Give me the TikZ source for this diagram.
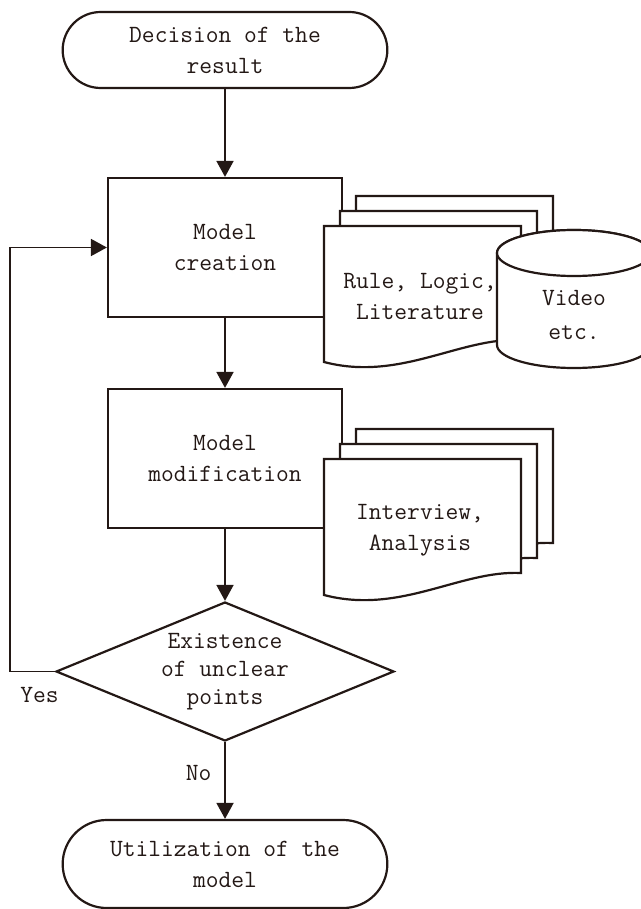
\documentclass[tikz,border=0pt]{standalone}
\usepackage{tikz}
\usetikzlibrary{positioning, arrows.meta, shapes.geometric, shapes.misc}
\definecolor{ink}{HTML}{231815}

\begin{document}
\begin{tikzpicture}[
    x=0.5pt, y=-0.5pt,
    every node/.style={font=\fontsize{12.4}{15.5}\selectfont\ttfamily, text=ink},
    term/.style={draw=ink, line width=1.1pt, rounded rectangle, minimum width=169pt,
                 align=center, fill=white},
    block/.style={draw=ink, line width=1.1pt, minimum width=117pt, minimum height=69.5pt,
                  align=center, fill=white},
    decide/.style={draw=ink, line width=1.1pt, diamond, minimum width=169pt,
                   minimum height=69.5pt, inner sep=0pt},
    sheet/.style={draw=ink, line width=1.1pt, fill=white},
    arr/.style={-{Triangle[length=8pt, width=8.5pt]}, draw=ink, line width=0.9pt}
  ]
    \clip (0,0) rectangle (641,909);
    % main column
    \node[term, minimum height=38pt] (start) at (225,50) {Decision of the\\result};
    \node[block, below=43.9pt of start] (create) {Model\\creation};
    \node[block, below=34.9pt of create] (modify) {Model\\modification};
    \node[decide, below=35.9pt of modify] (chk) {};
    \node[align=center, font=\fontsize{12.4}{14}\selectfont\ttfamily] (chktxt) at (chk) {Existence\\of unclear\\points};
    \node[term, minimum height=44pt, below=38.4pt of chk] (util) {Utilization of the\\model};
    % paper stacks, laid over the right edge of the blocks
    \foreach \sy in {226,459}
      \foreach \dx/\dy in {32/-30, 16/-15, 0/0}
        \draw[sheet, shift={(324+\dx,\sy+\dy)}] (0,0) -- (197,0) -- (197,114)
          .. controls (136,111) and (76,156) .. (0,136) -- cycle;
    \node[align=center] (lit) at (420,296) {Rule, Logic,\\Literature};
    \node[align=center] (intv) at (420,530) {Interview,\\Analysis};
    % drum in front of the first stack
    \draw[sheet] (497,253) -- (497,345) arc[start angle=180, end angle=0, x radius=77, y radius=23]
      -- (651,253) arc[start angle=0, end angle=-180, x radius=77, y radius=23] -- cycle;
    \draw[sheet] (574,253) ellipse [x radius=77, y radius=23];
    \node[align=center, font=\fontsize{12.4}{17}\selectfont\ttfamily] (video) at (574,315) {Video\\etc.};
    % arrows
    \draw[arr] (start) -- (create);
    \draw[arr] (create) -- (modify);
    \draw[arr] (modify) -- (chk);
    \draw[arr] (chk) -- node[left=3pt, pos=0.4] (no) {No} (util);
    \draw[arr] (chk.west) -- ++(-45,0) |- (create.west);
    \node[below left=4.5pt and -5.4pt of chk.west] (yes) {Yes};
\end{tikzpicture}
\end{document}
